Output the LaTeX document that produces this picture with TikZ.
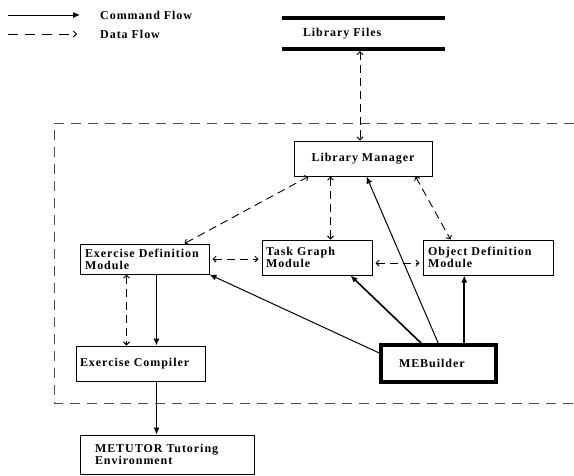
\documentclass[tikz,border=0pt]{standalone}
\usepackage{fontspec}
\newfontfamily\lblfont{Liberation Serif}[LetterSpace=8]
\usetikzlibrary{arrows.meta,calc}
\tikzset{
  box/.style={draw, line width=1pt, inner ysep=0pt, font=\lblfont\bfseries\fontsize{12}{12}\selectfont, align=left},
  lbl/.style={inner sep=0pt, font=\lblfont\bfseries\fontsize{12}{12}\selectfont},
  cmd/.style={line width=1pt, -{Latex[length=7pt,width=6pt]}},
  cmdbold/.style={cmd, line width=1.6pt},
  data/.style={line width=0.9pt, dash pattern=on 8pt off 5pt, {Straight Barb[length=3pt,width=6pt]}-{Straight Barb[length=3pt,width=6pt]}},
  legdata/.style={line width=0.9pt, dash pattern=on 10pt off 7pt, -{Straight Barb[length=3pt,width=6pt]}},
}
\begin{document}
\begin{tikzpicture}[x=1pt,y=-1pt]
\useasboundingbox (0,0) rectangle (574,475);
% legend
\coordinate (c1) at (8,15); \coordinate (c2) at (80,15);
\coordinate (d1) at (8,34); \coordinate (d2) at (77,34);
\draw[cmd] (c1) -- (c2);
\draw[legdata] (d1) -- (d2);
\node[lbl, anchor=west] (lc) at (100,15) {Command Flow};
\node[lbl, anchor=west] (ld) at (100,34) {Data Flow};
% library files
\node[lbl, minimum width=163pt, minimum height=31pt, inner xsep=21pt, text width=121pt, align=left] (lf) at (363.5,33.5) {Library Files};
\draw[line width=4pt] (lf.north west) -- (lf.north east);
\draw[line width=4pt] (lf.south west) -- (lf.south east);
% dashed enclosure
\draw[black!70, line width=1pt, dash pattern=on 10pt off 7pt] (574,123) -- (54,123) -- (54,403) -- (574,403);
% boxes
\node[box, minimum width=138pt, minimum height=35pt, align=center] (lm) at (363,158.5) {Library Manager};
\node[box, minimum width=129pt, minimum height=30pt, inner xsep=5pt, text width=119pt] (edm) at (144.5,259) {Exercise Definition\\Module};
\node[box, minimum width=110pt, minimum height=35pt, inner xsep=4pt, text width=102pt] (tgm) at (317,257.5) {Task Graph\\Module};
\node[box, minimum width=130pt, minimum height=35pt, inner xsep=5pt, text width=120pt] (odm) at (488,257.5) {Object Definition\\Module};
\node[box, minimum width=129pt, minimum height=35pt, inner xsep=4pt, text width=121pt] (ec) at (140.5,363.5) {Exercise Compiler};
\node[box, minimum width=174pt, minimum height=39pt, inner xsep=15pt, text width=144pt] (met) at (167,454.5) {METUTOR Tutoring\\Environment};
\node[box, line width=3.5pt, minimum width=115pt, minimum height=37pt, inner xsep=18pt, text width=79pt] (meb) at (438.5,363.5) {MEBuilder};
% data flows
\draw[data] ([xshift=-3.5pt,yshift=-2pt]lf.south) -- ([xshift=-3pt]lm.north);
\draw[data] ([xshift=15pt]lm.south west) -- ([xshift=105pt]edm.north west);
\draw[data] ([xshift=37pt]lm.south west) -- ([xshift=69pt]tgm.north west);
\draw[data] ([xshift=-17pt]lm.south east) -- ([xshift=28pt]odm.north west);
\draw[data, shorten <=3pt, shorten >=3pt] (edm.east) -- (edm.east -| tgm.west);
\draw[data, shorten <=3pt, shorten >=3pt] ([yshift=-5.5pt]tgm.east) -- ([yshift=-5.5pt]tgm.east -| odm.west);
\draw[data] ([xshift=47pt]edm.south west) -- ([xshift=47pt]edm.south west |- ec.north);
% command flows
\draw[cmd] ([xshift=77pt]edm.south west) -- ([xshift=77pt]edm.south west |- ec.north);
\draw[cmd] ([xshift=81pt]ec.south west) -- ([xshift=81pt]ec.south west |- met.north);
\draw[cmd] ([yshift=10.5pt]meb.west) -- (edm.south east);
\draw[cmdbold] ([xshift=42pt]meb.north west) -- ([xshift=89pt]tgm.south west);
\draw[cmd] ([xshift=59pt]meb.north west) -- ([xshift=73pt]lm.south west);
\draw[cmdbold] ([xshift=85pt]meb.north west) -- ([xshift=85pt]meb.north west |- odm.south);
\end{tikzpicture}
\end{document}
